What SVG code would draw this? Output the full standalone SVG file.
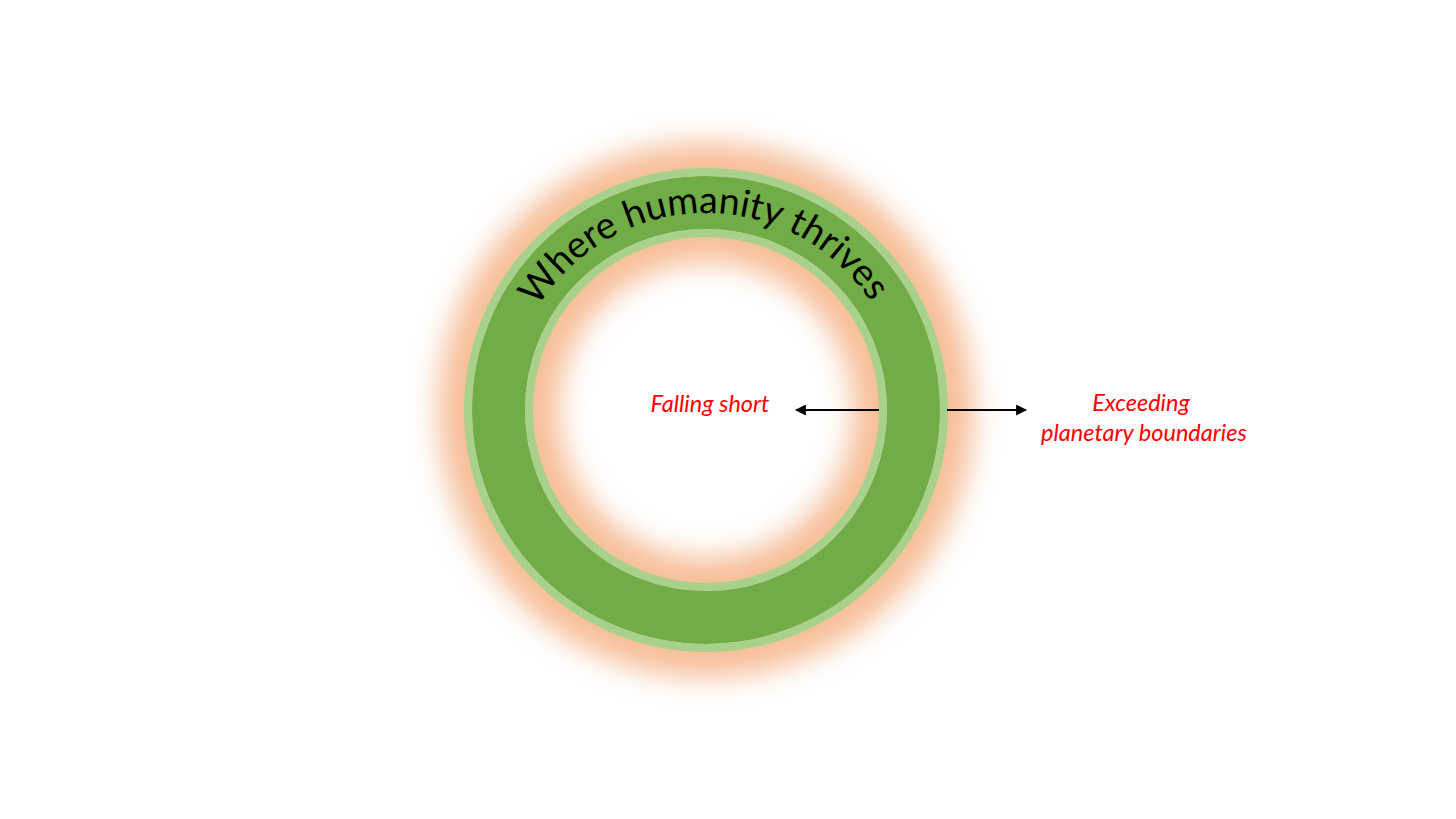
<svg xmlns="http://www.w3.org/2000/svg" width="1456" height="819" viewBox="0 0 1456 819">
  <style>
    .lbl { font-family: Lato, "Open Sans", "Liberation Sans", sans-serif; font-style: italic; font-size: 23.5px; fill: #FF0000; text-anchor: middle; }
    .ring-text { font-family: Lato, "Open Sans", "Liberation Sans", sans-serif; font-size: 37.5px; fill: #000; }
    .arrow { stroke: #000; stroke-width: 2.2; fill: none; }
  </style>
  <defs>
    <filter id="glow" filterUnits="userSpaceOnUse" x="360" y="60" width="700" height="700">
      <feGaussianBlur stdDeviation="14"/>
    </filter>
    <marker id="ah" viewBox="0 0 10 10" refX="9" refY="5" markerWidth="5" markerHeight="5" orient="auto-start-reverse" markerUnits="strokeWidth">
      <path d="M0,0 L10,5 L0,10 z" fill="#000"/>
    </marker>
    <path id="arc" d="M 509 410 A 197 197 0 0 1 903 410"/>
  </defs>
  <rect width="1456" height="819" fill="#fff"/>
  <g id="ring">
    <circle cx="706" cy="410" r="207.5" fill="none" stroke="#F6B88E" stroke-width="120" filter="url(#glow)" opacity="0.9"/>
    <circle cx="706" cy="410" r="207.5" fill="none" stroke="#70AD47" stroke-width="53"/>
    <circle cx="706" cy="410" r="238" fill="none" stroke="#A9D18E" stroke-width="8"/>
    <circle cx="706" cy="410" r="177" fill="none" stroke="#A9D18E" stroke-width="8"/>
    <text class="ring-text"><textPath href="#arc" startOffset="49.5%" text-anchor="middle">Where humanity thrives</textPath></text>
  </g>
  <g id="connectors">
    <line class="arrow" x1="879" y1="410" x2="796" y2="410" marker-end="url(#ah)"/>
    <line class="arrow" x1="947" y1="410" x2="1026" y2="410" marker-end="url(#ah)"/>
  </g>
  <g id="label-falling">
    <text class="lbl" x="710" y="412">Falling short</text>
  </g>
  <g id="label-exceeding">
    <text class="lbl" x="1141" y="411">Exceeding</text>
    <text class="lbl" x="1144" y="441">planetary boundaries</text>
  </g>
</svg>
